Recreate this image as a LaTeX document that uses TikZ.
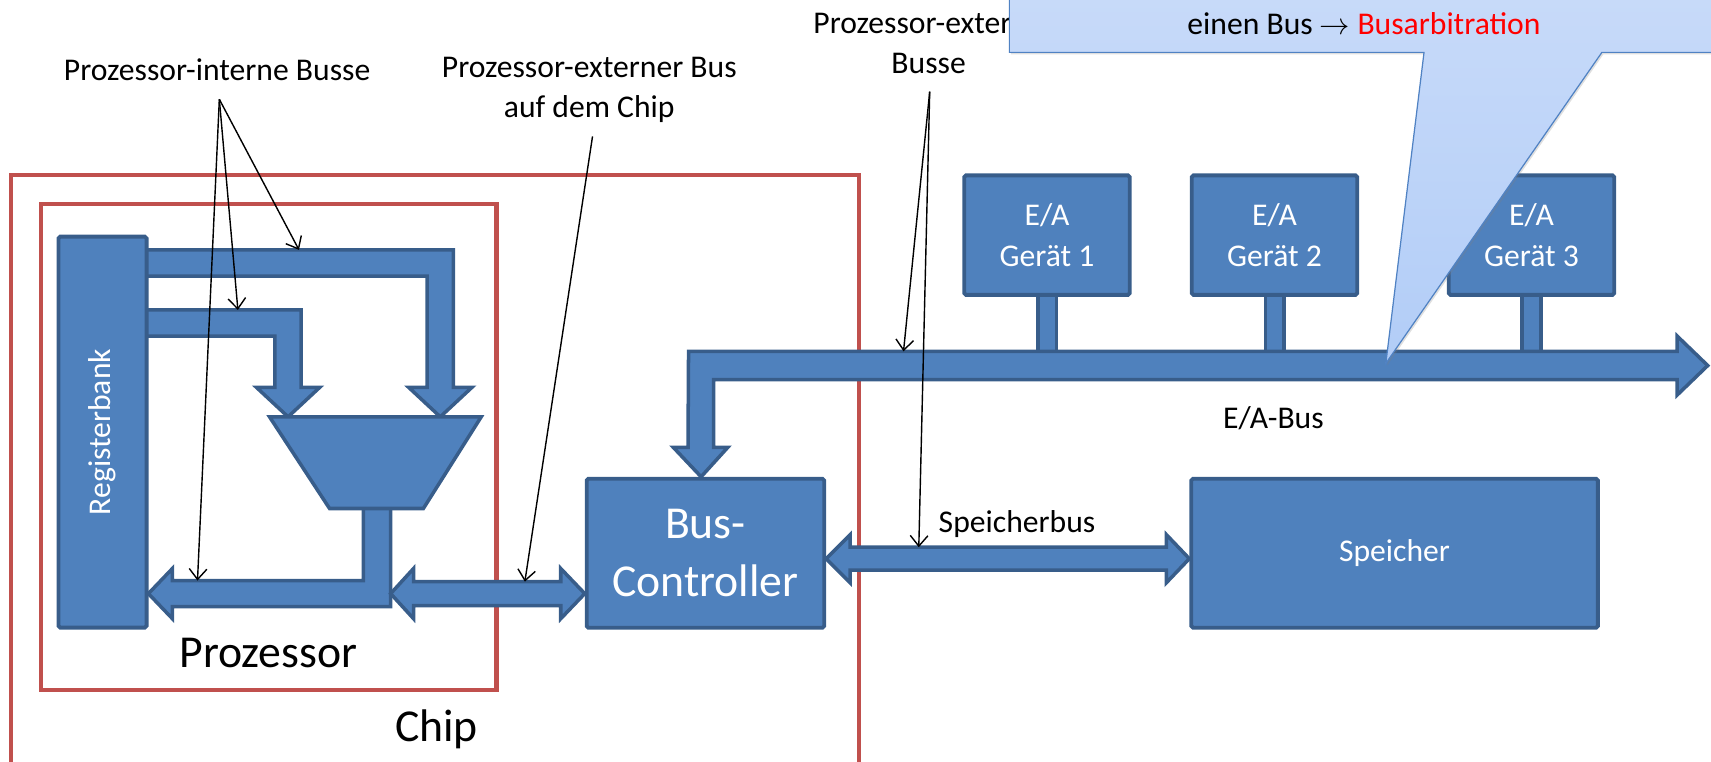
\documentclass[tikz,border=0pt]{standalone}
\usepackage{fontspec}
\setmainfont{Carlito}
\usetikzlibrary{arrows.meta,calc,positioning,backgrounds,shadows}
\definecolor{busblue}{RGB}{79,129,189}
\definecolor{busedge}{RGB}{56,93,138}
\definecolor{chipred}{RGB}{192,80,77}
\definecolor{calltop}{RGB}{204,221,250}
\definecolor{callbot}{RGB}{178,205,247}
\definecolor{calledge}{RGB}{80,130,195}

\begin{document}
\begin{tikzpicture}[x=0.02182cm,y=-0.02182cm]

\tikzstyle{redframe} = [draw=chipred, line width=2.3pt]
\tikzstyle{busbox} = [draw=busedge, fill=busblue, line width=2.2pt,
    rounded corners=1pt, text=white, align=center,
    font=\fontsize{18}{23}\selectfont]
\tikzstyle{busline} = [draw=busedge, fill=busblue, line width=2pt,
    line join=miter]
\tikzstyle{txt} = [align=center, font=\fontsize{18}{22.5}\selectfont]
\tikzstyle{bigtxt} = [align=center, font=\fontsize{26}{33}\selectfont]
\tikzstyle{note} = [-{Straight Barb[length=6pt,width=10pt]}, line width=0.8pt]
\tikzstyle{callout} = [draw=calledge, line width=0.7pt,
    top color=calltop, bottom color=callbot,
    drop shadow={opacity=0.25, shadow xshift=0.8pt, shadow yshift=-1.2pt}]

\useasboundingbox (0,0) rectangle (1568,698);

% =========================
% chip and processor frames
% =========================
\draw[redframe] (10,160) rectangle (787,740);
\draw[redframe] (38,187) rectangle (455,632);
\node[bigtxt] (chip) at (400,668) {Chip};
\node[bigtxt] (cpu) at (246,598) {Prozessor};

% =========================
% processor-internal buses and ALU
% =========================
\draw[busline] (130,229) -- (415.5,229) -- (415.5,355) -- (432.5,355) -- (403.5,382)
    -- (374.5,355) -- (391.5,355) -- (391.5,253) -- (130,253) -- cycle;
\draw[busline] (130,284) -- (276,284) -- (276,355) -- (293,355) -- (264,382)
    -- (235,355) -- (252,355) -- (252,308) -- (130,308) -- cycle;
\draw[busline] (333,460) -- (358,460) -- (358,556) -- (158,556) -- (158,567)
    -- (136,544) -- (158,521) -- (158,532) -- (333,532) -- cycle;

\draw[busline] (247,382) -- (441,382) -- (388,466) -- (302,466) -- cycle;

\node[busbox, rotate=90, minimum width=7.82cm, minimum height=1.76cm]
    (regs) at (94,396) {Registerbank};

% =========================
% controller, memory, devices
% =========================
\node[busbox, minimum width=4.75cm, minimum height=2.98cm,
    font=\fontsize{26}{33}\selectfont] (ctrl) at (646.5,507) {Bus-\\Controller};
\node[busbox, minimum width=8.13cm, minimum height=2.98cm] (mem) at (1278,507) {Speicher};

\foreach \i/\x in {1/959.5,2/1168,3/1403.5}
    \node[busbox, minimum width=3.31cm, minimum height=2.39cm]
        (dev\i) at (\x,215.5) {E/A\\Gerät \i};

\begin{scope}[on background layer]
\foreach \i in {1,2,3}
    \draw[busline] ($(dev\i.south)+(-8.5,-4)$) rectangle ($(dev\i.south)+(8.5,56)$);
\end{scope}

% =========================
% external buses
% =========================
\coordinate (iotip) at ($(ctrl.north)+(-4,0)$);
\draw[busline] (631,322) -- (1537,322) -- (1537,308) -- (1565,335) -- (1537,362)
    -- (1537,348) -- (654,348) -- ($(iotip)+(11.5,-27)$) -- ++(13,0) -- (iotip)
    -- ($(iotip)+(-25.5,-27)$) -- ++(13.5,0) -- cycle;

\coordinate (cpuport) at (358,544);
\coordinate (ctrlport) at ($(ctrl.west)+(0,37)$);
\draw[busline] (cpuport) -- ++(21,-23) -- ++(0,12) -- ($(ctrlport)+(-22,-11)$)
    -- ++(0,-12) -- (ctrlport) -- ++(-22,23) -- ++(0,-12) -- ($(cpuport)+(21,11)$)
    -- ++(0,12) -- cycle;

\coordinate (memL) at ($(ctrl.east)+(0,5)$);
\coordinate (memR) at ($(mem.west)+(0,5)$);
\draw[busline] (memL) -- ++(22,-22) -- ++(0,11.5) -- ($(memR)+(-21,-10.5)$)
    -- ++(0,-11.5) -- (memR) -- ++(-21,22) -- ++(0,-11.5) -- ($(memL)+(22,10.5)$)
    -- ++(0,11.5) -- cycle;

\node[txt] (iobus) at (1167,383) {E/A-Bus};
\node[txt] (membus) at (932,480) {Speicherbus};

% =========================
% labels with pointers
% =========================
\node[txt] (intlbl) at (199,64) {Prozessor-interne Busse};
\node[txt] (extlbl) at (540,82.5) {Prozessor-externer Bus\\auf dem Chip};
\node[txt] (outlbl) at (851,40) {Prozessor-externe\\Busse};

\coordinate (intsrc) at (201,91);
\coordinate (extsrc) at (543,125);
\coordinate (outsrc) at (852,84);
\coordinate (hitA) at (274,229);
\coordinate (hitB) at (218,284);
\coordinate (hitC) at (181,532);
\coordinate (hitD) at (481,533);
\coordinate (hitE) at (828,322);
\coordinate (hitF) at (842,501.5);

\foreach \t in {hitA,hitB,hitC}
    \draw[note] (intsrc) -- (\t);
\draw[note] (extsrc) -- (hitD);
\draw[note] (outsrc) -- (hitE);
\draw[note] (outsrc) -- (hitF);

% callout
\draw[callout] (925,48) -- (1305,48) -- (1270,333) -- (1468,48) -- (1620,48)
    -- (1620,-80) -- (925,-80) -- cycle;
\node[txt] (arb) at (1250,22) {einen Bus $\rightarrow$ \textcolor{red}{Busarbitration}};

\end{tikzpicture}
\end{document}
